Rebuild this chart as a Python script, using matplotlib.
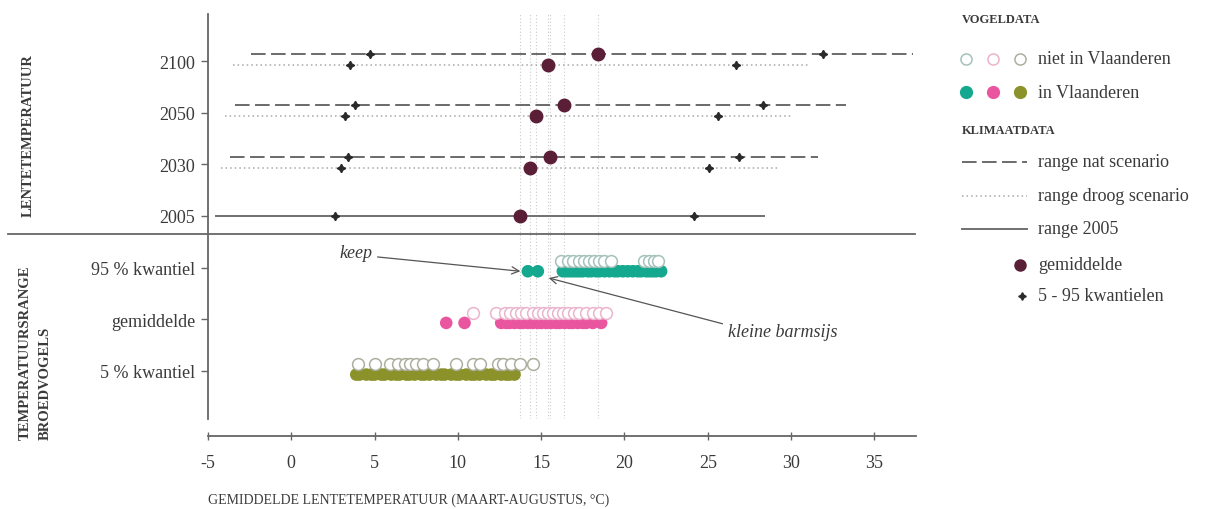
import matplotlib
matplotlib.use("Agg")
import matplotlib.pyplot as plt

plt.rcParams['font.family'] = ['Liberation Serif', 'DejaVu Serif']
plt.rcParams['axes.unicode_minus'] = False

# klimaatdata (°C): nat / droog scenario for 2030, 2050, 2100
scen_years = ["2030", "2050", "2100"]
nat_min = [-3.7, -3.4, -2.4]
nat_max = [31.6, 33.3, 37.3]
nat_q05 = [3.4, 3.8, 4.7]
nat_q95 = [26.9, 28.3, 31.9]
nat_mean = [15.5, 16.4, 18.4]
droog_min = [-4.2, -4.0, -3.5]
droog_max = [29.3, 30.0, 31.1]
droog_q05 = [3.0, 3.2, 3.5]
droog_q95 = [25.1, 25.6, 26.7]
droog_mean = [14.3, 14.7, 15.4]
# 2005 reference
ref_min, ref_max = -4.5, 28.4
ref_q05, ref_q95 = 2.6, 24.2
ref_mean = 13.7

# vogeldata: temperatuursrange broedvogels
teal_in = [14.2, 14.8, 16.3, 16.5, 16.7, 16.9, 17.1, 17.3, 17.5, 17.8, 18.0, 18.3, 18.5, 18.8,
           19.1, 19.4, 19.6, 19.9, 20.2, 20.5, 20.8, 21.0, 21.3, 21.5, 21.7, 21.9, 22.2]
teal_out = [16.2, 16.6, 16.9, 17.3, 17.6, 17.9, 18.2, 18.5, 18.8, 19.2, 21.2, 21.5, 21.8, 22.0]
pink_in = [9.3, 10.4, 12.6, 12.9, 13.1, 13.4, 13.7, 13.9, 14.2, 14.5, 14.8, 15.0, 15.3, 15.6,
           15.9, 16.1, 16.4, 16.7, 16.9, 17.2, 17.5, 17.7, 18.1, 18.6]
pink_out = [10.9, 12.3, 12.8, 13.1, 13.5, 13.8, 14.1, 14.5, 14.8, 15.1, 15.4, 15.7, 16.0, 16.3,
            16.6, 17.0, 17.3, 17.7, 18.1, 18.5, 18.9]
olive_in = [3.9, 4.1, 4.5, 4.8, 5.0, 5.4, 5.6, 6.0, 6.3, 6.5, 6.9, 7.1, 7.4, 7.8, 8.0, 8.3, 8.7,
            9.0, 9.2, 9.6, 9.9, 10.1, 10.5, 10.8, 11.0, 11.3, 11.7, 12.0, 12.2, 12.6, 12.9, 13.1, 13.4]
olive_out = [4.0, 5.0, 5.9, 6.4, 6.8, 7.1, 7.5, 7.9, 8.5, 9.9, 10.9, 11.3, 12.4, 12.7, 13.2, 13.7, 14.5]

row_labels = ["5 % kwantiel", "gemiddelde", "95 % kwantiel", "2005", "2030", "2050", "2100"]
rows = [1, 2, 3, 4, 5, 6, 7]

TEAL = "#14a88e"
PINK = "#ea559f"
OLIVE = "#8a9229"
TEAL_O = "#a3c2bb"
PINK_O = "#ebb4cd"
OLIVE_O = "#aeae9e"
MAROON = "#5a1f37"
TXT = "#3a3a3a"
AX = "#666666"
DASH = "#6a6a6a"
DOT = "#a8a8a8"
STAR = "#2a2a2a"

W, H = 1212, 510
fig = plt.figure(figsize=(W / 100, H / 100), dpi=100)
ax = fig.add_axes([208 / W, 90 / H, 708 / W, 405 / H])
ax.set_xlim(-5, 37.5)
ax.set_ylim(0.07, 7.91)

# vertical guides at the means
for m in [ref_mean] + nat_mean + droog_mean:
    ax.axvline(m, color="#cccccc", lw=0.8, ls=(0, (1, 2)), zorder=0)

# klimaat rows
for i, yr in enumerate(scen_years):
    y = rows[row_labels.index(yr)]
    ax.plot([nat_min[i], nat_max[i]], [y + 0.14, y + 0.14], color=DASH, lw=1.4,
            dashes=[7.5, 2.8], zorder=2)
    ax.plot([droog_min[i], droog_max[i]], [y - 0.07, y - 0.07], color=DOT, lw=1.1,
            dashes=[1, 2], zorder=2)
    ax.plot([nat_q05[i], nat_q95[i]], [y + 0.14, y + 0.14], ls="none", marker=(4, 1, 0),
            ms=6, color=STAR, zorder=3)
    ax.plot([droog_q05[i], droog_q95[i]], [y - 0.07, y - 0.07], ls="none", marker=(4, 1, 0),
            ms=6, color=STAR, zorder=3)
    ax.plot([nat_mean[i]], [y + 0.14], "o", ms=9, color=MAROON, zorder=4)
    ax.plot([droog_mean[i]], [y - 0.07], "o", ms=9, color=MAROON, zorder=4)

y05 = rows[row_labels.index("2005")]
ax.plot([ref_min, ref_max], [y05, y05], color="#707070", lw=1.4, zorder=2)
ax.plot([ref_q05, ref_q95], [y05, y05], ls="none", marker=(4, 1, 0), ms=6, color=STAR, zorder=3)
ax.plot([ref_mean], [y05], "o", ms=9, color=MAROON, zorder=4)

# vogel rows
groups = [
    ("95 % kwantiel", teal_in, teal_out, TEAL, TEAL_O),
    ("gemiddelde", pink_in, pink_out, PINK, PINK_O),
    ("5 % kwantiel", olive_in, olive_out, OLIVE, OLIVE_O),
]
for lab, vin, vout, col, colo in groups:
    y = rows[row_labels.index(lab)]
    ax.scatter(vin, [y - 0.07] * len(vin), s=82, color=col, edgecolors="none", zorder=3)
    ax.scatter(vout, [y + 0.13] * len(vout), s=72, facecolors="white", edgecolors=colo,
               linewidths=1.1, zorder=4)

# axes styling
for s in ["top", "right"]:
    ax.spines[s].set_visible(False)
ax.spines["left"].set_color(AX)
ax.spines["left"].set_linewidth(1.3)
ax.spines["bottom"].set_color(AX)
ax.spines["bottom"].set_linewidth(1.3)
ax.spines["bottom"].set_position(("outward", 12))
ax.set_yticks(rows, row_labels)
ax.set_xticks(list(range(-5, 40, 5)))
ax.tick_params(axis="y", length=5, width=1, color=AX, labelsize=13, labelcolor=TXT, pad=4)
ax.tick_params(axis="x", direction="inout", length=6, width=1, color=AX, labelsize=13,
               labelcolor=TXT, pad=10)
ax.set_facecolor("none")

# overlay in figure pixels for labels, separator and legend
lay = fig.add_axes([0, 0, 1, 1], zorder=-1)
lay.set_xlim(0, W)
lay.set_ylim(H, 0)
lay.axis("off")

lay.plot([8, 915], [235, 235], color=AX, lw=1.3)

lay.text(28, 217, "LENTETEMPERATUUR", rotation=90, rotation_mode="anchor", ha="left",
         va="center", fontsize=10.5, fontweight="bold", color=TXT)
lay.text(25, 440, "TEMPERATUURSRANGE", rotation=90, rotation_mode="anchor", ha="left",
         va="center", fontsize=10.5, fontweight="bold", color=TXT)
lay.text(45, 440, "BROEDVOGELS", rotation=90, rotation_mode="anchor", ha="left",
         va="center", fontsize=10.5, fontweight="bold", color=TXT)
lay.text(208, 500, "GEMIDDELDE LENTETEMPERATUUR (MAART-AUGUSTUS, °C)", fontsize=10,
         color=TXT, va="center", ha="left")

# annotations
arrow = dict(arrowstyle="->", color="#555555", lw=0.9, shrinkA=2, shrinkB=0)
ax.annotate("keep", xy=(13.75, 2.93), xytext=(372, 254), textcoords=lay.transData,
            ha="right", va="center", fontsize=13, style="italic", color=TXT,
            arrowprops=dict(arrow, relpos=(1, 0.3)))
ax.annotate("kleine barmsijs", xy=(15.45, 2.8), xytext=(728, 333), textcoords=lay.transData,
            ha="left", va="center", fontsize=13, style="italic", color=TXT,
            arrowprops=dict(arrow, relpos=(0, 0.9)))

# legend
lay.text(962, 20, "VOGELDATA", fontsize=9, fontweight="bold", color=TXT, va="center")
lay.text(962, 131, "KLIMAATDATA", fontsize=9, fontweight="bold", color=TXT, va="center")
for px, c in zip([966, 993, 1020], [TEAL_O, PINK_O, OLIVE_O]):
    lay.plot([px], [60], "o", ms=8, mfc="white", mec=c, mew=1.1)
for px, c in zip([966, 993, 1020], [TEAL, PINK, OLIVE]):
    lay.plot([px], [93], "o", ms=8.5, color=c)
lay.plot([962, 1027], [163, 163], color=DASH, lw=1.4, dashes=[7.5, 2.8])
lay.plot([962, 1027], [197, 197], color=DOT, lw=1.1, dashes=[1, 2])
lay.plot([962, 1027], [230, 230], color="#707070", lw=1.4)
lay.plot([1020], [266], "o", ms=8, color=MAROON)
lay.plot([1022], [297], ls="none", marker=(4, 1, 0), ms=5.5, color=STAR)
for ty, t in zip([60, 93, 163, 197, 230, 266, 297],
                 ["niet in Vlaanderen", "in Vlaanderen", "range nat scenario",
                  "range droog scenario", "range 2005", "gemiddelde", "5 - 95 kwantielen"]):
    lay.text(1038, ty, t, fontsize=13, color=TXT, va="center", ha="left")

fig.savefig("out.png", dpi=100, facecolor="white")
